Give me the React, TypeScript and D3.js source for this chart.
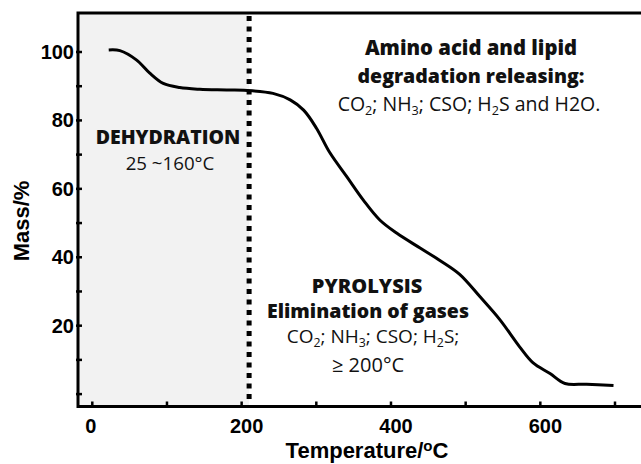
import React, { useEffect, useRef } from 'react';
import * as d3 from 'd3';

// TGA curve
const temperature = [22, 37, 59, 77, 95, 117, 144, 180, 212, 242, 265, 283, 300, 318, 341, 363, 385, 408, 439, 466, 492, 519, 546, 572, 590, 613, 633, 662, 698];
const mass = [100.6, 100.4, 97.7, 93.8, 90.8, 89.6, 89.1, 88.9, 88.7, 87.9, 86, 83, 77.8, 70.6, 63.5, 56.7, 50.9, 47, 42.7, 39, 35, 28.5, 21.7, 13.9, 9.2, 6.0, 3.1, 2.9, 2.5];

const xMajor = [0, 200, 400, 600];
const xMinor = [100, 300, 500, 700];
const yMajor = [20, 40, 60, 80, 100];
const yMinor = [0, 10, 30, 50, 70, 90];
const dehydrationEnd = 210;

const W = 641, H = 464;
const axisFont = '"Liberation Sans", Arial, sans-serif';
const noteFont = '"Open Sans", "Noto Sans", sans-serif';

export default function App() {
  const ref = useRef<SVGSVGElement>(null);

  useEffect(() => {
    const svg = d3.select(ref.current);
    svg.selectAll('*').remove();

    const x = d3.scaleLinear().domain([0, 700]).range([92.3, 615]);
    const y = d3.scaleLinear().domain([0, 100]).range([394.1, 52]);
    const left = 78, top = 13, bottom = 406.5;

    // shaded dehydration zone
    svg.append('rect')
      .attr('x', left).attr('y', top)
      .attr('width', x(dehydrationEnd) - left).attr('height', bottom - top)
      .attr('fill', '#f2f2f2');

    // dotted divider
    svg.append('line')
      .attr('x1', x(dehydrationEnd)).attr('x2', x(dehydrationEnd))
      .attr('y1', top + 3).attr('y2', bottom - 2)
      .attr('stroke', '#000').attr('stroke-width', 5)
      .attr('stroke-dasharray', '5 5.5');

    // curve
    const line = d3.line<number>()
      .x((d, i) => x(temperature[i]))
      .y(d => y(d))
      .curve(d3.curveCatmullRom.alpha(0.5));
    svg.append('path')
      .attr('d', line(mass))
      .attr('fill', 'none')
      .attr('stroke', '#000')
      .attr('stroke-width', 3);

    // spines
    svg.append('path')
      .attr('d', `M${W},${top}H${left}V${bottom}H${W}`)
      .attr('fill', 'none').attr('stroke', '#000').attr('stroke-width', 3);

    // ticks
    const ticks = svg.append('g').attr('stroke', '#000').attr('stroke-width', 2.5);
    xMajor.concat(xMinor).forEach(v => {
      ticks.append('line').attr('x1', x(v)).attr('x2', x(v)).attr('y1', bottom).attr('y2', bottom - 5);
    });
    yMajor.concat(yMinor).forEach(v => {
      ticks.append('line').attr('x1', left - 2).attr('x2', left + 4).attr('y1', y(v)).attr('y2', y(v));
    });

    svg.append('g').selectAll('text').data(xMajor).join('text')
      .attr('x', d => x(d) + (d === 0 ? -1.5 : 5)).attr('y', 433)
      .attr('text-anchor', 'middle')
      .attr('font-family', axisFont).attr('font-weight', 'bold').attr('font-size', 20)
      .text(d => d);

    svg.append('g').selectAll('text').data(yMajor).join('text')
      .attr('x', left - 4).attr('y', d => y(d) + 7)
      .attr('text-anchor', 'end')
      .attr('font-family', axisFont).attr('font-weight', 'bold').attr('font-size', 20)
      .text(d => d);

    // axis titles
    svg.append('text')
      .attr('transform', 'translate(29,221) rotate(-90)')
      .attr('text-anchor', 'middle')
      .attr('font-family', axisFont).attr('font-weight', 'bold').attr('font-size', 22)
      .text('Mass/%');

    const xt = svg.append('text')
      .attr('x', 367).attr('y', 458)
      .attr('text-anchor', 'middle')
      .attr('font-family', axisFont).attr('font-weight', 'bold').attr('font-size', 22);
    xt.append('tspan').text('Temperature/');
    xt.append('tspan').attr('font-size', 15).attr('dy', -7).text('o');
    xt.append('tspan').attr('dy', 7).text('C');

    // annotations; "_2" marks a subscript digit
    const note = (tx: number, ty: number, size: number, weight: number, s: string) => {
      const t = svg.append('text')
        .attr('x', tx).attr('y', ty)
        .attr('text-anchor', 'middle')
        .attr('font-family', noteFont).attr('font-weight', weight).attr('font-size', size)
        .attr('fill', '#111');
      let down = false;
      s.split(/(_\d)/).filter(p => p).forEach(p => {
        if (p[0] === '_') {
          t.append('tspan').attr('font-size', size * 0.65).attr('dy', down ? 0 : 4).text(p.slice(1));
          down = true;
        } else {
          t.append('tspan').attr('dy', down ? -4 : 0).text(p);
          down = false;
        }
      });
    };

    note(471, 55, 20.3, 800, 'Amino acid and lipid');
    note(471, 83, 19.5, 800, 'degradation releasing:');
    note(469, 111, 19.5, 400, 'CO_2; NH_3; CSO; H_2S and H2O.');

    note(168, 144, 19.5, 800, 'DEHYDRATION');
    note(170, 170, 18.7, 400, '25 ~160°C');

    note(367, 293, 20, 800, 'PYROLYSIS');
    note(368, 318, 19.5, 800, 'Elimination of gases');
    note(373, 343, 19, 400, 'CO_2; NH_3; CSO; H_2S;');
    note(368, 372, 20, 400, '\u2265 200°C');
  }, []);

  return <svg ref={ref} width={W} height={H} style={{ position: 'absolute', left: 0, top: 0 }} />;
}
